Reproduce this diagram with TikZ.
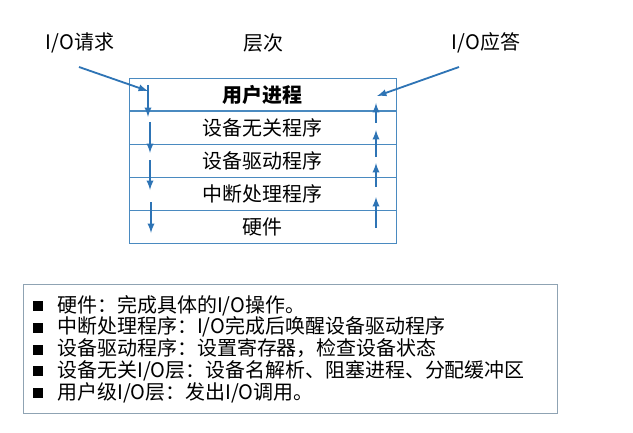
\documentclass[tikz,border=0pt]{standalone}
\usepackage{fontspec}
\setmainfont{Noto Sans CJK SC}
\usepackage{xcolor}
\usepackage{tikz}
\usetikzlibrary{positioning}
\usetikzlibrary{arrows}

\definecolor{flowblue}{HTML}{2E74B5}
\definecolor{rowline}{HTML}{4A8AC0}
\definecolor{noteline}{HTML}{8FA3B3}

\newcommand{\bulletsq}{\rule[0.05em]{0.5em}{0.5em}\hspace{0.7em}}

\begin{document}
\begin{tikzpicture}[
    layer/.style={draw=rowline,line width=0.5pt,minimum width=6.675cm,
        minimum height=0.81cm,inner sep=0pt,font=\fontsize{14.2}{16}\selectfont},
    caption/.style={font=\fontsize{14.2}{16}\selectfont},
    flow/.style={->,>=latex,line width=1.3pt,flowblue},
    notes/.style={draw=noteline,line width=0.6pt,align=left,
        text width=12.85cm,minimum height=3.225cm,inner xsep=0.25cm,
        font=\fontsize{14.2}{15.5}\selectfont},
    ]
	\useasboundingbox (0,0) rectangle (15.825,-10.8);
	% the layers
	\node[layer,anchor=north west,font=\fontsize{14.2}{16}\selectfont\bfseries] (user) at (3.225,-1.95) {用户进程};
	\node[layer,below=0pt of user] (indep) {设备无关程序};
	\node[layer,below=0pt of indep] (driver) {设备驱动程序};
	\node[layer,below=0pt of driver] (intr) {中断处理程序};
	\node[layer,below=0pt of intr] (hw) {硬件};
	% labels above
	\node[caption] (req) at (2.0,-1.075) {I/O请求};
	\node[caption] (level) at (6.575,-1.075) {层次};
	\node[caption] (ans) at (12.15,-1.075) {I/O应答};
	\coordinate (reqfrom) at (1.975,-1.675);
	\coordinate (reqto) at (3.7,-2.275);
	\coordinate (ansfrom) at (11.475,-1.675);
	\coordinate (ansto) at (9.425,-2.4);
	\draw[flow] (reqfrom) -- (reqto);
	\draw[flow] (ansfrom) -- (ansto);
	% request going down
	\foreach \i/\x/\ya/\yb in {1/3.7/2.125/2.925,2/3.75/3.05/3.825,
	                           3/3.75/4.0/4.75,4/3.775/5.05/5.825}{
		\coordinate (down\i a) at (\x,-\ya);
		\coordinate (down\i b) at (\x,-\yb);
		\draw[flow] (down\i a) -- (down\i b);
	}
	% answer going up
	\foreach \i/\ya/\yb in {1/5.7/4.925,2/4.675/4.075,3/3.925/3.25,4/3.075/2.575}{
		\coordinate (up\i a) at (9.4,-\ya);
		\coordinate (up\i b) at (9.4,-\yb);
		\draw[flow] (up\i a) -- (up\i b);
	}
	% notes
	\node[notes,anchor=north west] (note) at (0.575,-7.1) {%
		\bulletsq 硬件：完成具体的I/O操作。\\
		\bulletsq 中断处理程序：I/O完成后唤醒设备驱动程序\\
		\bulletsq 设备驱动程序：设置寄存器，检查设备状态\\
		\bulletsq 设备无关I/O层：设备名解析、阻塞进程、分配缓冲区\\
		\bulletsq 用户级I/O层：发出I/O调用。};
\end{tikzpicture}
\end{document}
